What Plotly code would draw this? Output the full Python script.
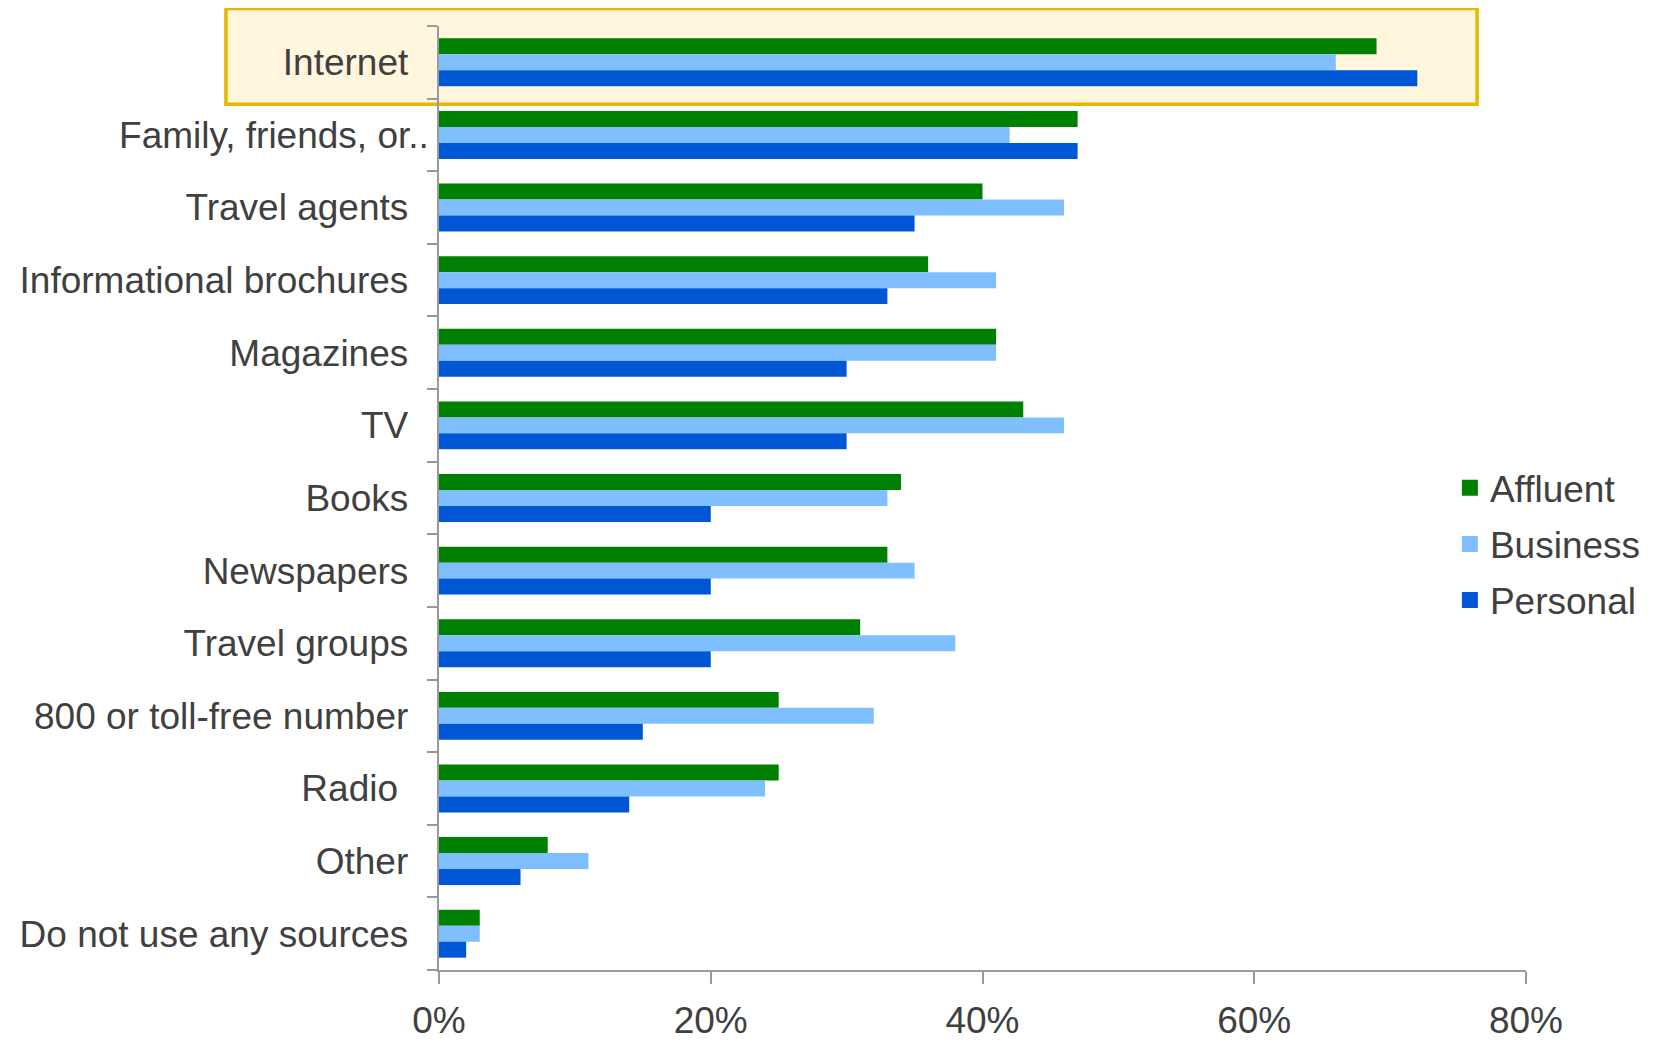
import plotly.graph_objects as go

categories = ["Internet", "Family, friends, or..", "Travel agents", "Informational brochures",
              "Magazines", "TV", "Books", "Newspapers", "Travel groups",
              "800 or toll-free number", "Radio", "Other", "Do not use any sources"]
tick_labels = ["Internet\u00a0\u00a0", "Family, friends, or..", "Travel agents\u00a0\u00a0",
               "Informational brochures\u00a0\u00a0", "Magazines\u00a0\u00a0", "TV\u00a0\u00a0",
               "Books\u00a0\u00a0", "Newspapers\u00a0\u00a0", "Travel groups\u00a0\u00a0",
               "800 or toll-free number\u00a0\u00a0", "Radio\u00a0\u00a0\u00a0", "Other\u00a0\u00a0",
               "Do not use any sources\u00a0\u00a0"]
affluent = [69, 47, 40, 36, 41, 43, 34, 33, 31, 25, 25, 8, 3]
business = [66, 42, 46, 41, 41, 46, 33, 35, 38, 32, 24, 11, 3]
personal = [72, 47, 35, 33, 30, 30, 20, 20, 20, 15, 14, 6, 2]
x_ticks = [0, 20, 40, 60, 80]
x_tick_labels = ["0%", "20%", "40%", "60%", "80%"]

series = [("Affluent", affluent, "#008000"),
          ("Business", business, "#80BFFF"),
          ("Personal", personal, "#0057D6")]

FONT = "Liberation Sans, Arial, sans-serif"
TXT = "#404040"
FS = 37

fig = go.Figure()
for name, vals, col in series:
    fig.add_trace(go.Bar(
        y=categories, x=vals, name=name, orientation="h",
        marker=dict(color=col, line=dict(width=0)),
        legendgroup=name, showlegend=False,
    ))
# legend entries with larger square swatches
for name, vals, col in series:
    fig.add_trace(go.Scatter(
        x=[None], y=[None], mode="markers", name=name, legendgroup=name,
        marker=dict(symbol="square", size=17, color=col), showlegend=True,
        hoverinfo="skip",
    ))

fig.update_layout(
    width=1651, height=1034,
    barmode="group", bargap=0.34, bargroupgap=0,
    plot_bgcolor="white", paper_bgcolor="white",
    margin=dict(l=431, r=133, t=18, b=72, autoexpand=False),
    font=dict(family=FONT, size=FS, color=TXT),
    legend=dict(x=0.93, y=0.451, xanchor="left", yanchor="middle",
                font=dict(size=FS, color=TXT), tracegroupgap=5,
                bgcolor="rgba(0,0,0,0)"),
    shapes=[dict(type="rect", xref="paper", yref="paper",
                 x0=-0.196, x1=0.955, y0=0.917, y1=1.0186,
                 line=dict(color="#E8B800", width=3.5),
                 fillcolor="#FFF6DD", layer="below")],
)
fig.update_xaxes(range=[0, 80], tickmode="array", tickvals=x_ticks, ticktext=x_tick_labels,
                 showgrid=False, zeroline=False, showline=True, linecolor="#9A9A9A",
                 linewidth=1.5, ticks="outside", ticklen=12, tickcolor="#9A9A9A",
                 tickwidth=1.5, ticklabelstandoff=5, automargin=False,
                 tickfont=dict(size=FS, color=TXT, family=FONT))
fig.update_yaxes(autorange="reversed", type="category",
                 tickmode="array", tickvals=categories, ticktext=tick_labels,
                 tickson="boundaries", showgrid=False, zeroline=False, showline=True,
                 linecolor="#9A9A9A", linewidth=1.5, ticks="outside", ticklen=10,
                 tickcolor="#9A9A9A", tickwidth=1.5, ticklabelstandoff=1, automargin=False,
                 tickfont=dict(size=FS, color=TXT, family=FONT))

fig.write_html("out.html")
